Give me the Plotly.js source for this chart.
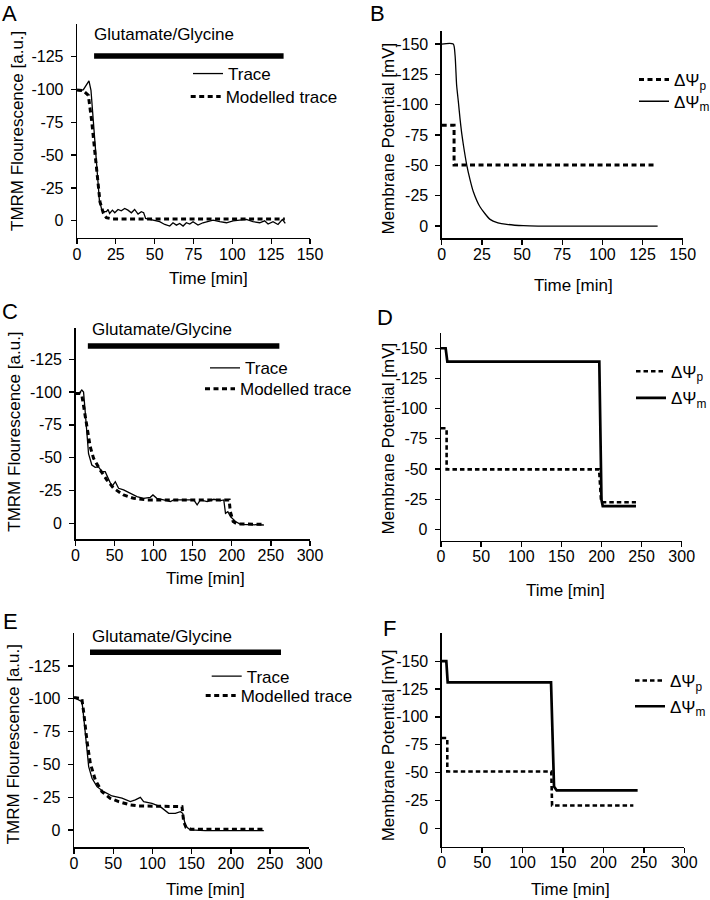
<!DOCTYPE html>
<html><head><meta charset="utf-8">
<script src="https://cdn.plot.ly/plotly-3.0.1.min.js"></script>
<style>html,body{margin:0;padding:0;background:#fff}#chart{width:710px;height:900px}</style>
</head><body><div id="chart"></div>
<script>
// ---------- Data ----------
// Panel A: TMRM trace and modelled trace
const tA = [0,1.9,4.1,5.6,7.7,9.0,10.5,12.0,13.3,14.4,15.9,17.0,18.9,20.0,21.0,22.8,24.3,26.4,28.5,30.7,32.8,35.0,37.1,39.3,41.4,42.9,44.2,46.8,50.0,53.2,56.5,59.7,61.8,64.0,66.1,68.3,70.4,72.6,74.7,77.9,81.1,83.3,87.6,91.9,96.2,100.5,104.7,109.0,113.3,117.6,120.8,123.0,126.2,129.4,132.2,134.1];
const vA = [-99.3,-98.8,-99.8,-102.3,-106.4,-99.3,-76.5,-51.2,-30.9,-15.7,-8.6,-6.9,-6.9,-8.6,-5.6,-8.1,-6.1,-8.6,-7.6,-9.4,-8.1,-6.1,-8.6,-5.1,-6.9,-6.1,-1.8,-1.0,-0.5,0.7,2.8,4.0,1.5,3.3,2.0,4.0,1.5,2.5,0.7,3.3,1.5,0.7,-0.5,0.7,1.5,0.0,-0.5,-1.0,0.7,1.5,0.0,2.5,0.7,2.8,-1.0,2.0];
const tAmod = [0,4,7.3,9.4,11.6,13.3,14.8,17.0,18.9,23.2,133.8];
const vAmod = [-99.5,-99,-95.5,-76.5,-51.2,-30.9,-14.4,-5.6,-2.3,-1.3,-1.3];
const glutA_t = [11, 133];
const glutA_v = [-125.4, -125.4];

// Panel B: membrane potentials
const tBp = [0,7.7,7.7,132];
const vBp = [-83,-83,-50.3,-50.3];
const tBm = [0,7.2,8.3,9.3,10.4,11.4,12.4,13.5,15.6,17.7,19.7,23.8,30.1,35,40.5,50.8,60,80,100,134.4];
const vBm = [-150,-150,-141,-116,-102,-88.5,-77,-66.8,-50.3,-37.9,-28.3,-15.9,-5.5,-2.7,-1.4,-0.3,0,0,0,0];

// Panel C
const tC = [0,3.8,8.1,10.3,12,14.5,16.7,20.9,25.2,29.5,33.8,38,42.3,46.6,50.9,55.1,61.5,70,78.6,87,95.7,99.1,104,112.8,121.4,125.7,138.5,151.3,155.6,159.8,168.4,177,185.5,189.7,191.9,194.9,198.3,204.7,211.1,241];
const vC = [-99,-98.6,-101.6,-100,-88,-71,-53,-44.4,-42.6,-43,-39.3,-39.3,-33,-28,-31.7,-26.7,-25.4,-22.9,-20.3,-19,-19.8,-21.6,-19,-17.8,-16.5,-17.8,-17.8,-17.8,-14,-17.8,-16.5,-18.3,-17.3,-17.8,-7.6,-8.9,-5,-1.3,0.8,1.3];
const tCmod = [0,6,8,10.3,13.7,18.8,23.1,31.6,40.2,48.7,61.5,74.4,91.5,150,196.6,198,201.7,206.8,238.9];
const vCmod = [-99,-99,-98,-88.9,-76,-58.4,-49.5,-40.6,-33,-26.7,-21.6,-19,-17.8,-17.8,-17.8,-9,-1.3,0.5,0.8];
const glutC_t = [15.8, 260.8];
const glutC_v = [-135.1, -135.1];

// Panel D
const tDp = [0,7,7,197,199.4,200,243];
const vDp = [-83.7,-83.7,-49.7,-49.7,-24.3,-22.4,-22.4];
const tDm = [0,5.8,7.9,197.3,200,201.6,243];
const vDm = [-150,-150,-139,-139,-24.5,-19.3,-19.3];

// Panel E
const tE = [0,6,10.2,12.3,14.4,16.6,18.7,23,29.3,37.9,48.5,61.2,71.8,78.2,84.6,88.8,99.4,110,120.7,129.2,135.6,138.6,141.9,144,148.3,167.4,242];
const vE = [-101,-99,-97.8,-86.4,-73.7,-61,-48.3,-39.4,-33,-29.2,-25.9,-24.2,-21.6,-22.9,-24.9,-21.6,-20.3,-17.8,-12.7,-12.7,-14,-12.7,-3.8,-2,0,0.5,0.5];
const tEmod = [0,10,12.3,16.6,20.8,27.2,35.7,46.3,57,71.8,82.4,137.7,139.8,142.8,149.2,240.6];
const vEmod = [-101,-100,-90,-67.6,-50.8,-38.1,-29.2,-24.1,-21.6,-19.1,-18.3,-17.8,-6.4,-2,-0.5,-0.5];
const glutE_t = [20.4, 263.9];
const glutE_v = [-135.4, -135.4];

// Panel F
const tFp = [0,6.9,6.9,135.5,136.5,237];
const vFp = [-81,-81,-51,-51,-20.5,-20.5];
const tFm = [0,5.7,7.4,135.2,138.9,142.2,242.3];
const vFm = [-150,-150,-131,-131,-37.5,-34,-34];

// Ticks
const xTicks150 = [0,25,50,75,100,125,150];
const xTicks300 = [0,50,100,150,200,250,300];
const yTicks125 = [0,-25,-50,-75,-100,-125];
const yLabels125 = ['0','-25','-50','-75','-100','-125'];
const yLabelsE = ['0','- 25','- 50','- 75','-100','-125'];
const yTicks150 = [0,-25,-50,-75,-100,-125,-150];
const yLabels150 = ['0','-25','-50','-75','-100','-125','-150'];

// Text
const legTrace = 'Trace', legModel = 'Modelled trace';
const legP = '\u0394\u03A8<sub>p</sub>', legM = '\u0394\u03A8<sub>m</sub>';
const glutText = 'Glutamate/Glycine';
const yTitleF = 'TMRM Flourescence [a.u.]';
const yTitleP = 'Membrane Potential [mV]';
const xTitle = 'Time [min]';
const letters = ['A','B','C','D','E','F'];

// ---------- Layout ----------
const W = 710, H = 900;
const FONT = '"Liberation Sans", Arial, Helvetica, sans-serif';
const px = p => p / W, py = p => 1 - p / H;

const panels = [
  {l:77,   r:310,   t:24.3,  b:238,   xr:[0,150], yr:[13.1,-149.5], xt:xTicks150, yt:yTicks125, yl:yLabels125},
  {l:441.7,r:682.7, t:30.7,  b:238.3, xr:[0,150], yr:[10.1,-161],   xt:xTicks150, yt:yTicks150, yl:yLabels150},
  {l:75.5, r:310,   t:328.3, b:539.3, xr:[0,300], yr:[12.2,-148.6], xt:xTicks300, yt:yTicks125, yl:yLabels125},
  {l:441,  r:681.7, t:333.3, b:540.7, xr:[0,300], yr:[9.4,-162.4],  xt:xTicks300, yt:yTicks150, yl:yLabels150},
  {l:74,   r:309.3, t:633.3, b:847.3, xr:[0,300], yr:[13.2,-149.9], xt:xTicks300, yt:yTicks125, yl:yLabelsE},
  {l:441.7,r:684.3, t:633.3, b:846.7, xr:[0,300], yr:[16.5,-175],   xt:xTicks300, yt:yTicks150, yl:yLabels150}
];

const layout = {
  width: W, height: H,
  margin: {l:0, r:0, t:0, b:0, pad:0, autoexpand:false},
  paper_bgcolor: '#fff', plot_bgcolor: '#fff',
  font: {family: FONT, color: '#000', size: 16},
  showlegend: true,
  annotations: [], shapes: []
};

const axBase = {
  showline: true, linecolor: '#000', linewidth: 1.3,
  ticks: 'outside', ticklen: 5, tickwidth: 1.3, tickcolor: '#000',
  showgrid: false, zeroline: false, fixedrange: true,
  tickfont: {family: FONT, size: 16, color: '#000'},
  tickmode: 'array', autorange: false
};

panels.forEach((p, i) => {
  const s = i === 0 ? '' : String(i + 1);
  layout['xaxis' + s] = Object.assign({}, axBase, {
    domain: [px(p.l), px(p.r)], range: p.xr, anchor: 'y' + s,
    tickvals: p.xt, ticktext: p.xt.map(String), ticklabelstandoff: -4
  });
  layout['yaxis' + s] = Object.assign({}, axBase, {
    domain: [py(p.b), py(p.t)], range: p.yr, anchor: 'x' + s,
    tickvals: p.yt, ticktext: p.yl, ticklabelstandoff: 4
  });
});

// Annotations: panel letters, axis titles, glutamate labels
const letterPos = [[9,13],[378,13],[10,311],[385,318],[10,621],[389,628]];
letterPos.forEach((q, i) => layout.annotations.push({
  text: letters[i], xref:'paper', yref:'paper', x:px(q[0]), y:py(q[1]),
  xanchor:'center', yanchor:'middle', showarrow:false, font:{family:FONT, size:22, color:'#000'}
}));
const yTitlePos = [[17,131,yTitleF],[388.3,138.3,yTitleP],[15,431.7,yTitleF],[388.3,438.3,yTitleP],[13.3,744,yTitleF],[388.3,745,yTitleP]];
yTitlePos.forEach(q => layout.annotations.push({
  text: q[2], xref:'paper', yref:'paper', x:px(q[0]), y:py(q[1]), textangle:-90,
  xanchor:'center', yanchor:'middle', showarrow:false, font:{family:FONT, size:17, color:'#000'}
}));
const xTitlePos = [[208.3,278],[573.3,286],[205.8,578.5],[565,590],[205.8,889],[570.8,889]];
xTitlePos.forEach(q => layout.annotations.push({
  text: xTitle, xref:'paper', yref:'paper', x:px(q[0]), y:py(q[1]),
  xanchor:'center', yanchor:'middle', showarrow:false, font:{family:FONT, size:17, color:'#000'}
}));
[[163.8,35],[161.7,329.3],[161.7,636]].forEach(q => layout.annotations.push({
  text: glutText, xref:'paper', yref:'paper', x:px(q[0]), y:py(q[1]),
  xanchor:'center', yanchor:'middle', showarrow:false, font:{family:FONT, size:17, color:'#000'}
}));

// Legends: one per entry so each row sits where the figure has it
const legendPos = [[228,74],[225.7,97],[674,80],[674,101.7],[245,368.3],[240,389.3],
                   [671,371.7],[671,398.3],[246.7,676.5],[240.7,696],[670,681],[670,706.7]];
legendPos.forEach((q, i) => {
  layout['legend' + (i === 0 ? '' : String(i + 1))] = {
    x: px(q[0] - 40), y: py(q[1]), xanchor:'left', yanchor:'middle',
    bgcolor:'rgba(0,0,0,0)', borderwidth:0, font:{family:FONT, size:17, color:'#000'},
    itemclick:false, itemdoubleclick:false, tracegroupgap:0
  };
});
const lg = i => (i === 0 ? 'legend' : 'legend' + (i + 1));

const solidThin = {color:'#000', width:1.3};
const dashThick = {color:'#000', width:3, dash:'5px,3.5px'};
const solidThick = {color:'#000', width:2.7};
const dashMid = {color:'#000', width:2.6, dash:'4.5px,3px'};

const data = [
  // A
  {x:glutA_t, y:glutA_v, xaxis:'x', yaxis:'y', mode:'lines', line:{color:'#000', width:5.5}, showlegend:false, hoverinfo:'skip'},
  {x:tA, y:vA, xaxis:'x', yaxis:'y', mode:'lines', name:legTrace, line:solidThin, legend:lg(0)},
  {x:tAmod, y:vAmod, xaxis:'x', yaxis:'y', mode:'lines', name:legModel, line:dashThick, legend:lg(1)},
  // B
  {x:tBp, y:vBp, xaxis:'x2', yaxis:'y2', mode:'lines', name:legP, line:dashThick, legend:lg(2)},
  {x:tBm, y:vBm, xaxis:'x2', yaxis:'y2', mode:'lines', name:legM, line:{color:'#000', width:1.3, shape:'spline', smoothing:0.6}, legend:lg(3)},
  // C
  {x:glutC_t, y:glutC_v, xaxis:'x3', yaxis:'y3', mode:'lines', line:{color:'#000', width:5.5}, showlegend:false, hoverinfo:'skip'},
  {x:tC, y:vC, xaxis:'x3', yaxis:'y3', mode:'lines', name:legTrace, line:solidThin, legend:lg(4)},
  {x:tCmod, y:vCmod, xaxis:'x3', yaxis:'y3', mode:'lines', name:legModel, line:dashThick, legend:lg(5)},
  // D
  {x:tDp, y:vDp, xaxis:'x4', yaxis:'y4', mode:'lines', name:legP, line:dashMid, legend:lg(6)},
  {x:tDm, y:vDm, xaxis:'x4', yaxis:'y4', mode:'lines', name:legM, line:solidThick, legend:lg(7)},
  // E
  {x:glutE_t, y:glutE_v, xaxis:'x5', yaxis:'y5', mode:'lines', line:{color:'#000', width:5.5}, showlegend:false, hoverinfo:'skip'},
  {x:tE, y:vE, xaxis:'x5', yaxis:'y5', mode:'lines', name:legTrace, line:solidThin, legend:lg(8)},
  {x:tEmod, y:vEmod, xaxis:'x5', yaxis:'y5', mode:'lines', name:legModel, line:dashThick, legend:lg(9)},
  // F
  {x:tFp, y:vFp, xaxis:'x6', yaxis:'y6', mode:'lines', name:legP, line:dashMid, legend:lg(10)},
  {x:tFm, y:vFm, xaxis:'x6', yaxis:'y6', mode:'lines', name:legM, line:solidThick, legend:lg(11)}
];
data.forEach(d => { d.cliponaxis = false; });

Plotly.newPlot('chart', data, layout, {staticPlot:true, displayModeBar:false});
</script></body></html>
